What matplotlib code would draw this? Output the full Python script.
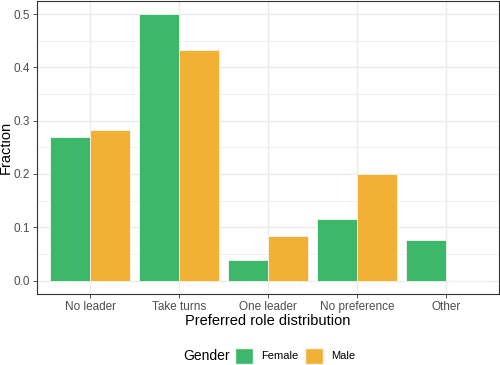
import numpy as np
import matplotlib.pyplot as plt
from matplotlib.patches import Patch

plt.rcParams['font.family'] = ['Liberation Sans', 'DejaVu Sans']

# data
categories = ['No leader', 'Take turns', 'One leader', 'No preference', 'Other']
female = [7/26, 13/26, 1/26, 3/26, 2/26]
male = [17/60, 26/60, 5/60, 12/60, 0.0]
groups = ['Female', 'Male']
colors = ['#3DB86B', '#F2B134']

fig = plt.figure(figsize=(5, 3.65), dpi=100)
ax = fig.add_axes([0.074, 0.195, 0.924, 0.803])

x = np.arange(1, len(categories) + 1)
w = 0.45
ax.bar(x - w/2, female, width=w, color=colors[0], edgecolor='#F5F5F0', linewidth=0.6, zorder=3)
ax.bar(x + w/2, male, width=w, color=colors[1], edgecolor='#F5F5F0', linewidth=0.6, zorder=3)

ax.set_xlim(0.4, 5.6)
ax.set_ylim(-0.025, 0.525)
ax.set_xticks(x)
ax.set_xticklabels(categories)
ax.set_yticks([0, 0.1, 0.2, 0.3, 0.4, 0.5])
ax.set_yticklabels(['0.0', '0.1', '0.2', '0.3', '0.4', '0.5'])
ax.set_yticks(np.arange(0.05, 0.5, 0.1), minor=True)

ax.grid(True, which='major', color='#EBEBEB', linewidth=1.0, zorder=0)
ax.grid(True, which='minor', axis='y', color='#EBEBEB', linewidth=0.5, zorder=0)
ax.tick_params(axis='both', which='major', length=3, width=0.6, color='#333333',
               labelsize=8.5, labelcolor='#4D4D4D', pad=2)
ax.tick_params(axis='both', which='minor', length=0)
for s in ax.spines.values():
    s.set_color('#333333')
    s.set_linewidth(0.8)

ax.set_xlabel('Preferred role distribution', fontsize=10.5, labelpad=1)
ax.set_ylabel('Fraction', fontsize=10.5)
ax.yaxis.set_label_coords(-0.052, 0.5)

# legend at bottom, title on the left
handles = [Patch(facecolor=c, edgecolor='#F5F5F0', label=g) for c, g in zip(colors, groups)]
fig.legend(handles=handles, loc='center left', bbox_to_anchor=(0.47, 0.025), ncol=2,
           frameon=False, fontsize=8, handlelength=1.65, handleheight=1.8,
           handletextpad=0.7, columnspacing=0.6, borderpad=0, borderaxespad=0)
fig.text(0.366, 0.025, 'Gender', fontsize=10, va='center', ha='left')

fig.savefig('out.png', dpi=100)
